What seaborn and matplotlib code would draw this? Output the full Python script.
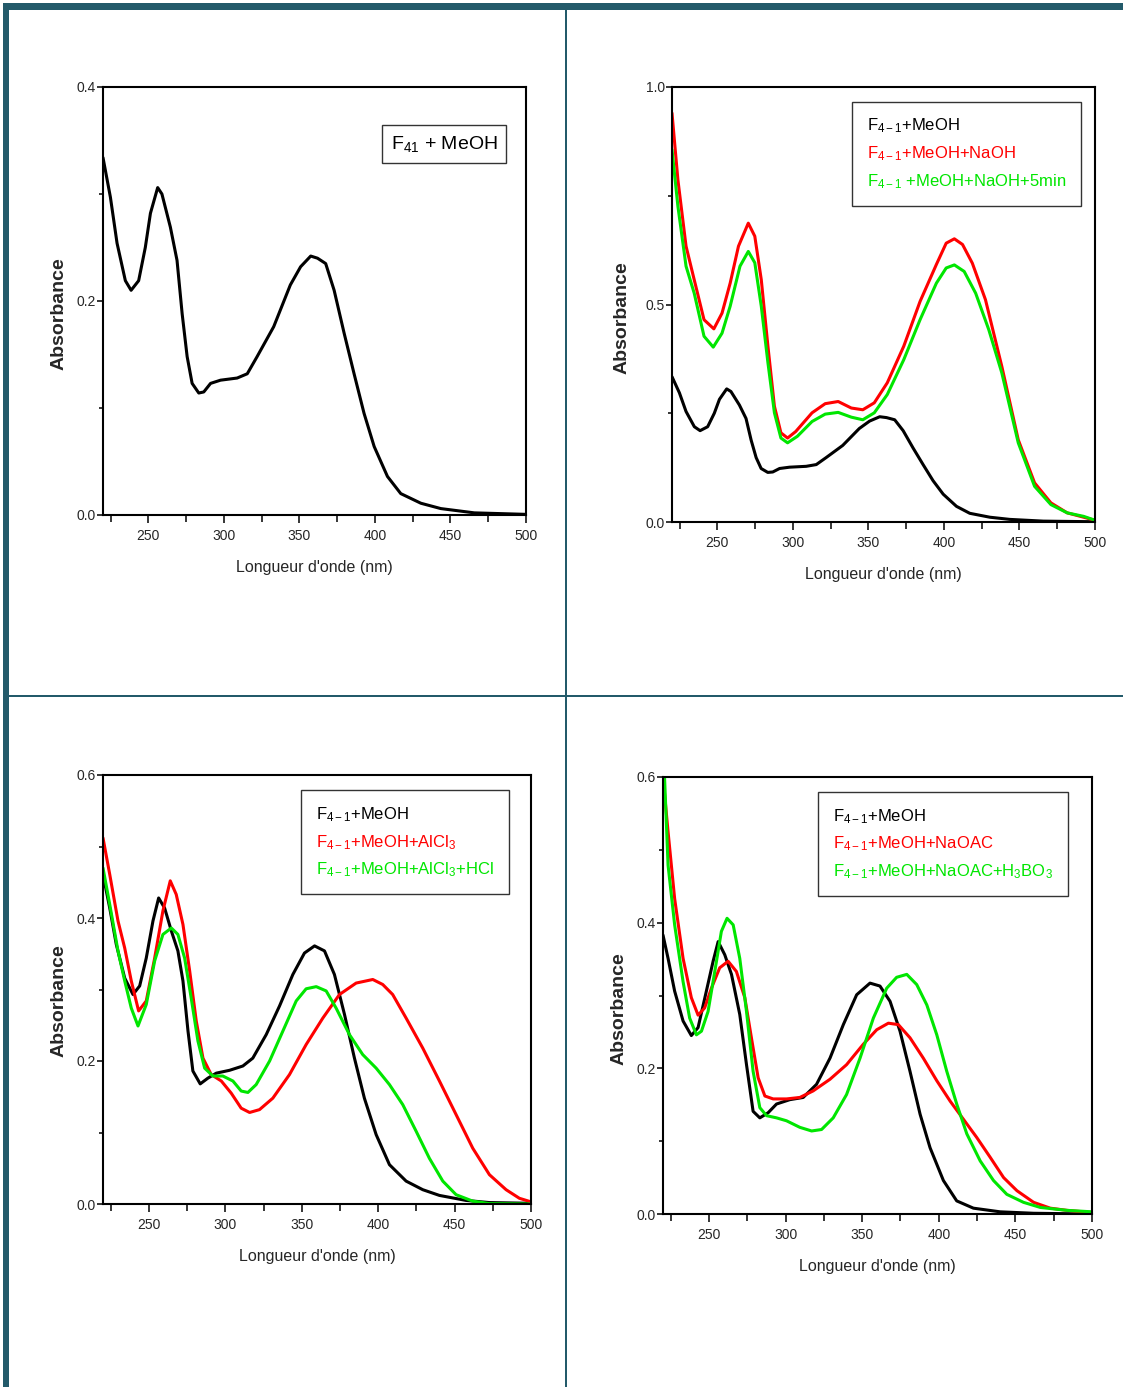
import matplotlib
matplotlib.use('Agg')
import matplotlib.pyplot as plt
import seaborn as sns
import numpy as np
from matplotlib.patches import Rectangle
from matplotlib.ticker import MultipleLocator, FormatStrFormatter

# F41 + MeOH (panneaux 1 et 2)
wl_meoh = [220, 224.9, 229.3, 234.8, 238.6, 243.6, 248, 251.4, 256.2, 259, 264.6, 269, 272.4,
           275.7, 279, 283.4, 286.7, 291.2, 297.8, 308.8, 315.5, 322, 333, 344, 350.8, 357.5,
           362, 367.4, 373, 379.6, 386.2, 392.8, 399.5, 408.3, 417.1, 430.4, 443.6, 465.8, 500]
abs_meoh = [0.334, 0.297, 0.254, 0.219, 0.210, 0.219, 0.250, 0.282, 0.306, 0.300, 0.269, 0.238,
            0.188, 0.148, 0.123, 0.114, 0.115, 0.123, 0.126, 0.128, 0.132, 0.148, 0.176, 0.215,
            0.232, 0.242, 0.240, 0.235, 0.210, 0.170, 0.132, 0.095, 0.064, 0.036, 0.020, 0.011,
            0.006, 0.002, 0.0006]

# NaOH
wl_naoh = [220, 223.9, 229.3, 234.7, 241.2, 247.7, 253.1, 258.5, 264, 270.5, 274.8, 279.1, 283.5,
           287.8, 292.1, 296.5, 301.9, 312.7, 321.4, 330, 338.7, 346.3, 353.9, 362.5, 373.4,
           384.2, 395, 401.5, 406.9, 412.3, 418.8, 427.5, 438.3, 449.2, 460, 470.8, 481.6,
           492.5, 500]
abs_naoh = [0.940, 0.787, 0.634, 0.557, 0.465, 0.444, 0.480, 0.549, 0.634, 0.687, 0.657, 0.557,
            0.404, 0.266, 0.205, 0.193, 0.208, 0.251, 0.272, 0.277, 0.262, 0.258, 0.274, 0.320,
            0.404, 0.507, 0.592, 0.641, 0.651, 0.638, 0.595, 0.511, 0.358, 0.189, 0.090, 0.044,
            0.021, 0.011, 0.004]

# NaOH + 5 min
wl_naoh5 = [220, 223.9, 229.3, 234.7, 241.2, 247.3, 253.1, 258.5, 265, 270.5, 274.8, 279.1, 283.5,
            287.8, 292.1, 296.5, 303, 312.7, 321.4, 330, 338.7, 346.3, 353.9, 362.5, 373.4,
            384.2, 395, 401.5, 406.9, 413.4, 421, 429.7, 438.3, 449.2, 460, 470.8, 481.6,
            492.5, 500]
abs_naoh5 = [0.856, 0.726, 0.588, 0.526, 0.427, 0.402, 0.434, 0.496, 0.588, 0.622, 0.596, 0.496,
             0.366, 0.251, 0.193, 0.182, 0.197, 0.231, 0.248, 0.252, 0.241, 0.235, 0.251, 0.293,
             0.373, 0.465, 0.549, 0.584, 0.591, 0.576, 0.526, 0.442, 0.343, 0.182, 0.082, 0.040,
             0.021, 0.013, 0.004]

# Panneau 3 : MeOH, AlCl3, AlCl3 + HCl
wl_meoh_c = [220, 224.4, 228.7, 234.2, 239.6, 244, 248.3, 252.7, 256.4, 260.3, 264.7, 269, 272.3,
             275.6, 278.8, 283.6, 288.6, 294.1, 302.8, 311.5, 318, 326.8, 335.5, 344.2, 351.8,
             358.4, 364.9, 371.4, 378, 384.5, 391, 398.7, 407.4, 418.3, 429.2, 440.1, 457.5,
             472.8, 500]
abs_meoh_c = [0.461, 0.414, 0.363, 0.316, 0.293, 0.305, 0.344, 0.396, 0.428, 0.414, 0.382, 0.354,
              0.312, 0.242, 0.186, 0.168, 0.176, 0.183, 0.187, 0.193, 0.204, 0.237, 0.277, 0.321,
              0.351, 0.361, 0.354, 0.321, 0.265, 0.204, 0.148, 0.097, 0.055, 0.032, 0.020, 0.012,
              0.005, 0.002, 0.001]

wl_alcl3 = [220, 224.4, 229.8, 234.2, 238.5, 243.3, 248.3, 253.8, 259.2, 264, 267.9, 272.3, 276.7,
            281, 285.4, 290.8, 297.4, 303.9, 310.4, 315.9, 322.4, 331.1, 342, 352.9, 363.8,
            374.7, 385.6, 396.5, 403, 409.5, 418.3, 429.2, 440.1, 451, 461.9, 472.8, 483.7,
            492.4, 500]
abs_alcl3 = [0.512, 0.461, 0.396, 0.358, 0.312, 0.270, 0.284, 0.344, 0.410, 0.452, 0.433, 0.391,
             0.326, 0.256, 0.204, 0.181, 0.172, 0.155, 0.134, 0.128, 0.132, 0.148, 0.181, 0.223,
             0.260, 0.293, 0.309, 0.314, 0.307, 0.293, 0.260, 0.218, 0.172, 0.125, 0.078, 0.041,
             0.020, 0.008, 0.003]

wl_alcl3_hcl = [220, 224.4, 229.8, 234.2, 238.5, 242.9, 248.3, 253.8, 259.2, 264.7, 269, 273.4,
                277.7, 282.1, 286.5, 291.9, 298.4, 305, 310.4, 314.8, 320.2, 329, 337.7, 346.4,
                352.9, 359.5, 366, 372.5, 381.2, 389.9, 398.7, 407.4, 416.1, 424.8, 433.5, 442.3,
                451, 461.9, 472.8, 500]
abs_alcl3_hcl = [0.470, 0.419, 0.354, 0.312, 0.274, 0.249, 0.279, 0.340, 0.377, 0.386, 0.377,
                 0.344, 0.288, 0.228, 0.190, 0.179, 0.179, 0.172, 0.158, 0.156, 0.167, 0.200,
                 0.242, 0.284, 0.301, 0.304, 0.298, 0.274, 0.237, 0.209, 0.190, 0.167, 0.139,
                 0.102, 0.064, 0.032, 0.013, 0.004, 0.0005, 0.0]

# Panneau 4 : MeOH, NaOAC, NaOAC + H3BO3
wl_meoh_d = [220, 223.3, 227.6, 233.1, 238.5, 242.9, 248.3, 252.7, 256, 260.3, 264.7, 270.1,
             274.5, 278.8, 283.2, 288.6, 294.1, 302.8, 311.5, 320.2, 329, 337.7, 346.4, 355.1,
             361.6, 368.2, 374.7, 381.2, 387.8, 394.3, 403, 411.7, 422.6, 440, 461.9, 500]
abs_meoh_d = [0.383, 0.351, 0.306, 0.265, 0.245, 0.256, 0.306, 0.347, 0.374, 0.356, 0.329, 0.274,
              0.205, 0.141, 0.132, 0.139, 0.151, 0.157, 0.160, 0.178, 0.214, 0.260, 0.301, 0.317,
              0.313, 0.292, 0.251, 0.196, 0.137, 0.091, 0.046, 0.018, 0.008, 0.003, 0.001, 0.0]

wl_naoac = [220, 223.3, 227.6, 233.1, 238.5, 242.9, 247.2, 251.6, 257, 262.5, 267.9, 273.4, 277.7,
            282.1, 286.5, 291.9, 300.6, 309.3, 318, 329, 339.8, 350.7, 359.5, 367.1, 373.6,
            381.2, 389.9, 398.7, 407.4, 416.1, 424.8, 433.5, 442.3, 451, 461.9, 472.8, 483.7, 500]
abs_naoac = [0.600, 0.525, 0.433, 0.351, 0.297, 0.273, 0.283, 0.310, 0.338, 0.347, 0.333, 0.297,
             0.242, 0.187, 0.162, 0.158, 0.158, 0.160, 0.169, 0.185, 0.205, 0.233, 0.253, 0.262,
             0.260, 0.242, 0.214, 0.183, 0.155, 0.130, 0.105, 0.078, 0.050, 0.032, 0.016, 0.008,
             0.005, 0.002]

wl_naoac_h3bo3 = [221, 223.3, 227.6, 233.1, 237.4, 241.8, 245.1, 249.4, 253.8, 258.1, 261.8, 265.8,
                  270.1, 274.5, 278.8, 283.2, 287.6, 294.1, 300.6, 309.3, 317, 323.5, 331.1,
                  339.8, 348.6, 357.3, 366, 372.5, 379.1, 385.6, 392.2, 398.7, 405.2, 411.7,
                  418.3, 427, 435.7, 444.4, 455.3, 466.3, 483.7, 500]
abs_naoac_h3bo3 = [0.600, 0.479, 0.397, 0.319, 0.269, 0.246, 0.251, 0.278, 0.333, 0.388, 0.406,
                   0.397, 0.351, 0.278, 0.196, 0.146, 0.135, 0.132, 0.128, 0.119, 0.114, 0.116,
                   0.132, 0.164, 0.214, 0.269, 0.310, 0.325, 0.329, 0.315, 0.287, 0.246, 0.196,
                   0.151, 0.110, 0.073, 0.046, 0.027, 0.016, 0.009, 0.005, 0.003]

BLACK, RED, GREEN = '#000000', '#ff0000', '#00e600'
FRAME = '#235a6a'

sns.set_style('ticks')
plt.rcParams['font.family'] = ['Liberation Sans', 'DejaVu Sans']
plt.rcParams['mathtext.fontset'] = 'custom'
plt.rcParams['mathtext.rm'] = 'Liberation Sans'
plt.rcParams['mathtext.it'] = 'Liberation Sans'

fig = plt.figure(figsize=(11.23, 13.87), dpi=100)

W, H = 1123, 1387
def box(l, t, r, b):
    return [l / W, 1 - b / H, (r - l) / W, (b - t) / H]

panels = [
    dict(rect=box(103, 87, 526, 515), ymax=0.4, ymaj=0.2, ymin=0.1, ylab=(-0.083, 0.47),
         curves=[(wl_meoh, abs_meoh, BLACK, r'F$_{\mathregular{41}}$ + MeOH')],
         leg=(0.953, 0.911), pad=0.45, fs=14),
    dict(rect=box(672, 87, 1095, 522), ymax=1.0, ymaj=0.5, ymin=0.25, ylab=(-0.099, 0.47),
         curves=[(wl_meoh, abs_meoh, BLACK, r'F$_{\mathregular{4-1}}$+MeOH'),
                 (wl_naoh, abs_naoh, RED, r'F$_{\mathregular{4-1}}$+MeOH+NaOH'),
                 (wl_naoh5, abs_naoh5, GREEN, r'F$_{\mathregular{4-1}}$ +MeOH+NaOH+5min')],
         leg=(0.967, 0.966), pad=0.9, fs=12),
    dict(rect=box(103, 775, 531, 1204), ymax=0.6, ymaj=0.2, ymin=0.1, ylab=(-0.082, 0.475),
         curves=[(wl_meoh_c, abs_meoh_c, BLACK, r'F$_{\mathregular{4-1}}$+MeOH'),
                 (wl_alcl3, abs_alcl3, RED, r'F$_{\mathregular{4-1}}$+MeOH+AlCl$_{\mathregular{3}}$'),
                 (wl_alcl3_hcl, abs_alcl3_hcl, GREEN,
                  r'F$_{\mathregular{4-1}}$+MeOH+AlCl$_{\mathregular{3}}$+HCl')],
         leg=(0.949, 0.965), pad=0.9, fs=12),
    dict(rect=box(663, 777, 1092, 1214), ymax=0.6, ymaj=0.2, ymin=0.1, ylab=(-0.082, 0.47),
         curves=[(wl_meoh_d, abs_meoh_d, BLACK, r'F$_{\mathregular{4-1}}$+MeOH'),
                 (wl_naoac, abs_naoac, RED, r'F$_{\mathregular{4-1}}$+MeOH+NaOAC'),
                 (wl_naoac_h3bo3, abs_naoac_h3bo3, GREEN,
                  r'F$_{\mathregular{4-1}}$+MeOH+NaOAC+H$_{\mathregular{3}}$BO$_{\mathregular{3}}$')],
         leg=(0.944, 0.966), pad=0.9, fs=12),
]

for p in panels:
    ax = fig.add_axes(p['rect'])
    for wl, ab, c, lab in p['curves']:
        sns.lineplot(x=wl, y=ab, color=c, linewidth=2.2, label=lab, sort=False, ax=ax)
    ax.set_xlim(220, 500)
    ax.set_ylim(0, p['ymax'])
    ax.xaxis.set_major_locator(MultipleLocator(50))
    ax.xaxis.set_minor_locator(MultipleLocator(25))
    ax.yaxis.set_major_locator(MultipleLocator(p['ymaj']))
    ax.yaxis.set_minor_locator(MultipleLocator(p['ymin']))
    ax.yaxis.set_major_formatter(FormatStrFormatter('%.1f'))
    ax.set_xticks([250, 300, 350, 400, 450, 500])
    ax.tick_params(which='both', direction='out', width=1.3, labelsize=10, pad=4)
    ax.tick_params(which='major', length=6)
    ax.tick_params(which='minor', length=5)
    ax.tick_params(axis='y', which='major', length=4, pad=1)
    ax.tick_params(axis='y', which='minor', length=3)
    for s in ax.spines.values():
        s.set_linewidth(1.5)
        s.set_color('black')
    ax.set_xlabel("Longueur d'onde (nm)", fontsize=11.5, labelpad=12)
    ax.set_ylabel('Absorbance', fontsize=14, fontweight='bold')
    ax.yaxis.set_label_coords(*p['ylab'])
    leg = ax.legend(loc='upper right', bbox_to_anchor=p['leg'], borderaxespad=0,
                    handlelength=0, handletextpad=0, labelcolor='linecolor',
                    fontsize=p['fs'], frameon=True, fancybox=False, edgecolor='black',
                    borderpad=p['pad'], labelspacing=0.55)
    leg.get_frame().set_linewidth(1.0)
    for h in leg.legend_handles:
        h.set_visible(False)

# cadre du tableau
fig.add_artist(Rectangle((3 / W, 1 - 10 / H), 1, 7 / H, transform=fig.transFigure,
                         color=FRAME, lw=0))
fig.add_artist(Rectangle((3 / W, 0), 6 / W, 1 - 3 / H, transform=fig.transFigure,
                         color=FRAME, lw=0))
fig.add_artist(Rectangle((565 / W, 0), 2 / W, 1 - 10 / H, transform=fig.transFigure,
                         color=FRAME, lw=0))
fig.add_artist(Rectangle((9 / W, 1 - 697 / H), 1, 2.5 / H, transform=fig.transFigure,
                         color=FRAME, lw=0))

fig.savefig('out.png', dpi=100, facecolor='white')
